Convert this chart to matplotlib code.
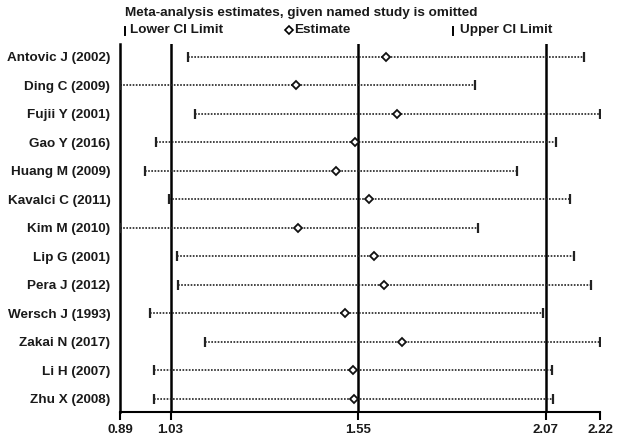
import matplotlib
matplotlib.use("Agg")
import matplotlib.pyplot as plt
from matplotlib.lines import Line2D

studies = ["Antovic J (2002)", "Ding C (2009)", "Fujii Y (2001)", "Gao Y (2016)",
           "Huang M (2009)", "Kavalci C (2011)", "Kim M (2010)", "Lip G (2001)",
           "Pera J (2012)", "Wersch J (1993)", "Zakai N (2017)", "Li H (2007)",
           "Zhu X (2008)"]
estimate = [1.628, 1.377, 1.657, 1.542, 1.489, 1.579, 1.382, 1.595, 1.621, 1.514, 1.671, 1.535, 1.537]
lower = [1.078, 0.89, 1.097, 0.990, 0.960, 1.027, 0.89, 1.047, 1.050, 0.972, 1.126, 0.983, 0.983]
upper = [2.177, 1.873, 2.22, 2.098, 1.990, 2.136, 1.882, 2.147, 2.194, 2.063, 2.219, 2.087, 2.091]
ref_lines = [1.03, 1.55, 2.07]
xticks = [0.89, 1.03, 1.55, 2.07, 2.22]

plt.rcParams['font.family'] = ['Liberation Sans', 'DejaVu Sans']
TXT = '#1a1a1a'

fig = plt.figure(figsize=(6.38, 4.37), dpi=100)
ax = fig.add_axes([120/638, 25.3/437, 480/638, (411.7-44)/437])
n = len(studies)
ys = list(range(n))

for x in ref_lines:
    ax.axvline(x, color='black', lw=1.8, zorder=1)

for y, lo, hi in zip(ys, lower, upper):
    ax.plot([lo, hi], [y, y], color='#222222', lw=1.2, ls=(0, (1, 0.9)), zorder=2)
ax.plot(lower, ys, ls='none', marker='|', ms=6.8, mew=1.6, color='#222222', zorder=3)
ax.plot(upper, ys, ls='none', marker='|', ms=6.8, mew=1.6, color='#222222', zorder=3)
ax.plot(estimate, ys, ls='none', marker='D', ms=4.4, mfc='white', mec='#111111', mew=1.3, zorder=4)

ax.set_xlim(0.89, 2.22)
ax.set_ylim(n - 1 + 0.45, -0.45)
ax.set_xticks(xticks)
ax.set_xticklabels([f"{v:.2f}" for v in xticks], fontsize=9.5, fontweight='bold', color=TXT)
ax.set_yticks(ys)
ax.set_yticklabels(studies, fontsize=9.7, fontweight='bold', color=TXT)
ax.tick_params(axis='x', direction='out', length=6, width=1.5, pad=3)
ax.tick_params(axis='y', length=0, pad=7)
for s in ['top', 'right']:
    ax.spines[s].set_visible(False)
ax.spines['left'].set_linewidth(1.8)
ax.spines['bottom'].set_linewidth(1.5)

FS = 9.7
fig.text(125/638, 1 - 12.7/437, "Meta-analysis estimates, given named study is omitted",
         fontsize=FS, fontweight='bold', color=TXT, va='center', ha='left')
ly = 1 - 30/437
fig.add_artist(Line2D([125/638, 125/638], [ly - 4.5/437, ly + 3.5/437], color='black', lw=1.4))
fig.text(129.5/638, ly, "Lower CI Limit", fontsize=FS, fontweight='bold', color=TXT, va='center')
fig.add_artist(Line2D([289/638], [ly], marker='D', ms=4.2, mfc='white', mec='black', mew=1.2))
fig.text(294.5/638, ly, "Estimate", fontsize=FS, fontweight='bold', color=TXT, va='center')
fig.add_artist(Line2D([453/638, 453/638], [ly - 4.5/437, ly + 3.5/437], color='black', lw=1.4))
fig.text(460.5/638, ly, "Upper CI Limit", fontsize=FS, fontweight='bold', color=TXT, va='center')

fig.savefig("out.png", dpi=100, facecolor='white')
